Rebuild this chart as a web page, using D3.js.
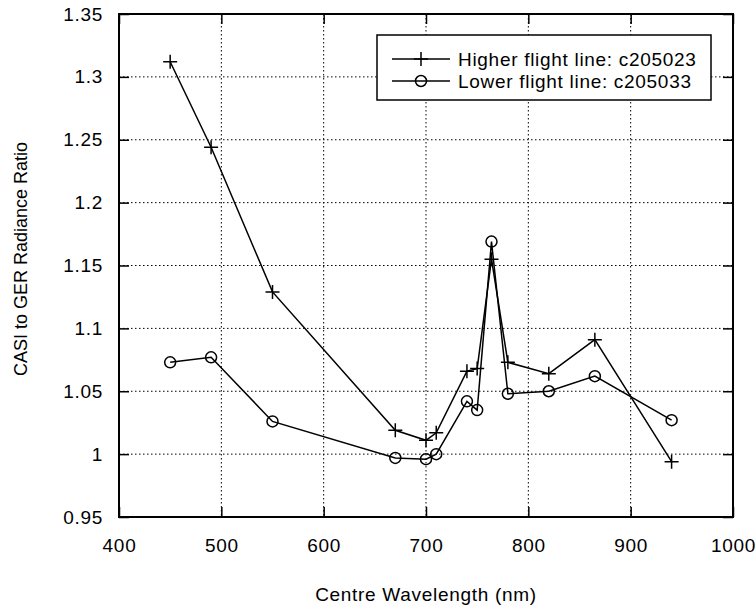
<!DOCTYPE html>
<html>
<head>
<meta charset="utf-8">
<script src="https://cdn.jsdelivr.net/npm/d3@7"></script>
<style>
  body { margin: 0; background: #fff; }
  svg { font-family: "Liberation Sans", Arial, sans-serif; }
  text { letter-spacing: 0.7px; }
  .grid line { stroke: #000; stroke-width: 1; stroke-dasharray: 1.5 2.5; }
</style>
</head>
<body>
<script>
var wavelength = [450, 490, 550, 670, 700, 710, 740, 750, 764, 780, 820, 865, 940];
var higher = [1.312, 1.244, 1.129, 1.019, 1.011, 1.017, 1.066, 1.068, 1.155, 1.073, 1.064, 1.091, 0.994];
var lower = [1.073, 1.077, 1.026, 0.997, 0.996, 1.000, 1.042, 1.035, 1.169, 1.048, 1.050, 1.062, 1.027];
var xTicks = [400, 500, 600, 700, 800, 900, 1000];
var yTicks = [0.95, 1, 1.05, 1.1, 1.15, 1.2, 1.25, 1.3, 1.35];

var width = 756, height = 607;
var plotL = 119, plotR = 733, plotT = 14, plotB = 517;
var fs = 19;

var svg = d3.select("body").append("svg")
  .attr("width", width)
  .attr("height", height);

var x = d3.scaleLinear().domain([400, 1000]).range([plotL, plotR]);
var y = d3.scaleLinear().domain([0.95, 1.35]).range([plotB, plotT]);

// dotted grid
var grid = svg.append("g").attr("class", "grid");
grid.selectAll(".gx").data(xTicks.slice(1, -1)).enter().append("line")
  .attr("x1", d => x(d)).attr("x2", d => x(d))
  .attr("y1", plotT).attr("y2", plotB);
grid.selectAll(".gy").data(yTicks.slice(1, -1)).enter().append("line")
  .attr("x1", plotL).attr("x2", plotR)
  .attr("y1", d => y(d)).attr("y2", d => y(d));

// axes with inward ticks
var tl = 10;
svg.append("g").attr("transform", "translate(0," + plotB + ")")
  .call(d3.axisBottom(x).tickValues(xTicks).tickSize(-tl).tickPadding(22).tickSizeOuter(0)
    .tickFormat(d3.format("d")));
svg.append("g").attr("transform", "translate(0," + plotT + ")")
  .call(d3.axisTop(x).tickValues(xTicks).tickSize(-tl).tickFormat("").tickSizeOuter(0));
svg.append("g").attr("transform", "translate(" + plotL + ",0)")
  .call(d3.axisLeft(y).tickValues(yTicks).tickSize(-tl).tickPadding(16).tickSizeOuter(0)
    .tickFormat(d => String(+d.toFixed(2))));
svg.append("g").attr("transform", "translate(" + plotR + ",0)")
  .call(d3.axisRight(y).tickValues(yTicks).tickSize(-tl).tickFormat("").tickSizeOuter(0));

svg.selectAll(".domain").remove();
svg.selectAll(".tick line").attr("stroke", "#000").attr("stroke-width", 1.5);
svg.selectAll(".tick text").attr("font-size", fs).attr("fill", "#000")
  .attr("font-family", "Liberation Sans, Arial, sans-serif");

svg.append("rect")
  .attr("x", plotL).attr("y", plotT)
  .attr("width", plotR - plotL).attr("height", plotB - plotT)
  .attr("fill", "none").attr("stroke", "#000").attr("stroke-width", 2);

// series
var line = d3.line().x(d => x(d[0])).y(d => y(d[1]));
var hiData = wavelength.map((w, i) => [w, higher[i]]);
var loData = wavelength.map((w, i) => [w, lower[i]]);

function drawCross(g, px, py) {
  g.append("path")
    .attr("d", "M" + (px - 7) + "," + py + "H" + (px + 7) + "M" + px + "," + (py - 7) + "V" + (py + 7))
    .attr("stroke", "#000").attr("stroke-width", 1.5).attr("fill", "none");
}
function drawCircle(g, px, py) {
  g.append("circle").attr("cx", px).attr("cy", py).attr("r", 5.5)
    .attr("fill", "none").attr("stroke", "#000").attr("stroke-width", 1.5);
}

svg.append("path").datum(hiData).attr("d", line)
  .attr("fill", "none").attr("stroke", "#000").attr("stroke-width", 1.5);
svg.append("path").datum(loData).attr("d", line)
  .attr("fill", "none").attr("stroke", "#000").attr("stroke-width", 1.5);

var marks = svg.append("g");
hiData.forEach(d => drawCross(marks, x(d[0]), y(d[1])));
loData.forEach(d => drawCircle(marks, x(d[0]), y(d[1])));

// legend
var lg = svg.append("g");
lg.append("rect").attr("x", 377).attr("y", 35).attr("width", 334).attr("height", 65)
  .attr("fill", "#fff").attr("stroke", "#000").attr("stroke-width", 1.5);
var rows = [{label: "Higher flight line: c205023", y: 59, mark: drawCross},
            {label: "Lower flight line: c205033", y: 81, mark: drawCircle}];
rows.forEach(r => {
  lg.append("line").attr("x1", 392).attr("x2", 450).attr("y1", r.y).attr("y2", r.y)
    .attr("stroke", "#000").attr("stroke-width", 1.5);
  r.mark(lg, 421, r.y);
  lg.append("text").attr("x", 458).attr("y", r.y).attr("dy", "0.36em")
    .attr("font-size", fs).text(r.label);
});

// axis titles
svg.append("text").attr("x", (plotL + plotR) / 2).attr("y", 601)
  .attr("text-anchor", "middle").attr("font-size", fs)
  .text("Centre Wavelength (nm)");
svg.append("text")
  .attr("transform", "translate(27,259) rotate(-90)")
  .attr("text-anchor", "middle").attr("font-size", 18)
  .style("letter-spacing", "0px")
  .text("CASI to GER Radiance Ratio");
</script>
</body>
</html>
